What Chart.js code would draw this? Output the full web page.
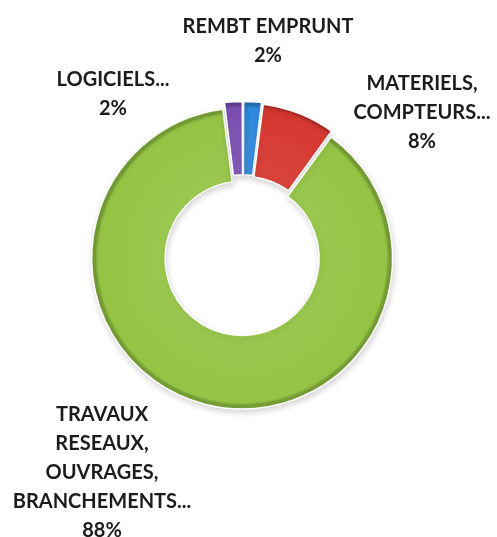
<!DOCTYPE html>
<html>
<head>
<meta charset="utf-8">
<script src="https://cdn.jsdelivr.net/npm/chart.js@4/dist/chart.umd.min.js"></script>
<style>
  html, body { margin: 0; padding: 0; background: #fff; }
  #wrap { width: 497px; height: 537px; }
</style>
</head>
<body>
<div id="wrap"><canvas id="budgetChart" width="497" height="537"></canvas></div>
<script>
// Chart data
const categories = ['REMBT EMPRUNT', 'MATERIELS, COMPTEURS...', 'TRAVAUX RESEAUX, OUVRAGES, BRANCHEMENTS...', 'LOGICIELS...'];
const shares = [2, 8, 88, 2];
const labelLines = [
    ['REMBT EMPRUNT'],
    ['MATERIELS,', 'COMPTEURS...'],
    ['TRAVAUX', 'RESEAUX,', 'OUVRAGES,', 'BRANCHEMENTS...'],
    ['LOGICIELS...']
];

// Styling / layout
const sliceColors = ['#2e89dc', '#d5372f', '#94c444', '#7b4fb3'];
const RADIUS = 147;
const CUTOUT = 0.5;
const EXPLODE = 14;
// label block centers, relative to the doughnut center
const labelOffsets = [[25, -214], [179, -142], [-141, 218], [-130, -161]];
const LINE_H = 29;

function shade(hex, f) {
    const n = parseInt(hex.slice(1), 16);
    const r = (n >> 16) & 255, g = (n >> 8) & 255, b = n & 255;
    const m = v => Math.max(0, Math.min(255, Math.round(f < 0 ? v * (1 + f) : v + (255 - v) * f)));
    return 'rgb(' + m(r) + ',' + m(g) + ',' + m(b) + ')';
}

// radial "bevel" fill; the arc offset is applied by translating the canvas,
// so the gradient is built around the un-exploded center
function sliceFill(ctx) {
    const chart = ctx.chart;
    const area = chart.chartArea;
    const base = sliceColors[ctx.dataIndex];
    if (!area || ctx.dataIndex === undefined) return base;
    const cx = (area.left + area.right) / 2;
    const cy = (area.top + area.bottom) / 2;
    const g = chart.ctx.createRadialGradient(cx, cy, RADIUS * CUTOUT, cx, cy, RADIUS);
    g.addColorStop(0, shade(base, -0.22));
    g.addColorStop(0.04, shade(base, 0.06));
    g.addColorStop(0.5, shade(base, 0.04));
    g.addColorStop(0.96, base);
    g.addColorStop(1, shade(base, -0.2));
    return g;
}

const shadowPlugin = {
    id: 'softShadow',
    beforeDatasetsDraw(chart) {
        const c = chart.ctx;
        c.save();
        c.shadowColor = 'rgba(0,0,0,0.16)';
        c.shadowBlur = 6;
        c.shadowOffsetX = 1;
        c.shadowOffsetY = 3;
    },
    afterDatasetsDraw(chart) {
        chart.ctx.restore();
    }
};

// Draws the multi-line category + percentage labels
const labelPlugin = {
    id: 'sliceLabels',
    afterDatasetsDraw(chart) {
        const meta = chart.getDatasetMeta(0);
        const c = chart.ctx;
        const total = shares.reduce((a, b) => a + b, 0);
        c.save();
        c.font = 'bold 20px Lato, "Open Sans", sans-serif';
        c.fillStyle = '#1c1c1c';
        c.textAlign = 'center';
        c.textBaseline = 'middle';
        meta.data.forEach((arc, i) => {
            const lines = labelLines[i].concat([Math.round(shares[i] / total * 100) + '%']);
            const x = arc.x + labelOffsets[i][0];
            const y0 = arc.y + labelOffsets[i][1] - (lines.length - 1) * LINE_H / 2;
            lines.forEach((t, k) => c.fillText(t, x, y0 + k * LINE_H));
        });
        c.restore();
    }
};

new Chart(document.getElementById('budgetChart'), {
    type: 'doughnut',
    data: {
        labels: categories,
        datasets: [{
            data: shares,
            backgroundColor: sliceFill,
            borderColor: '#ffffff',
            borderWidth: 1.5,
            offset: EXPLODE
        }]
    },
    options: {
        responsive: false,
        animation: false,
        radius: RADIUS,
        cutout: (CUTOUT * 100) + '%',
        rotation: 0,
        layout: { padding: { left: 0, right: 11, top: 0, bottom: 27 } },
        plugins: {
            legend: { display: false },
            tooltip: { enabled: false }
        }
    },
    plugins: [shadowPlugin, labelPlugin]
});
</script>
</body>
</html>
